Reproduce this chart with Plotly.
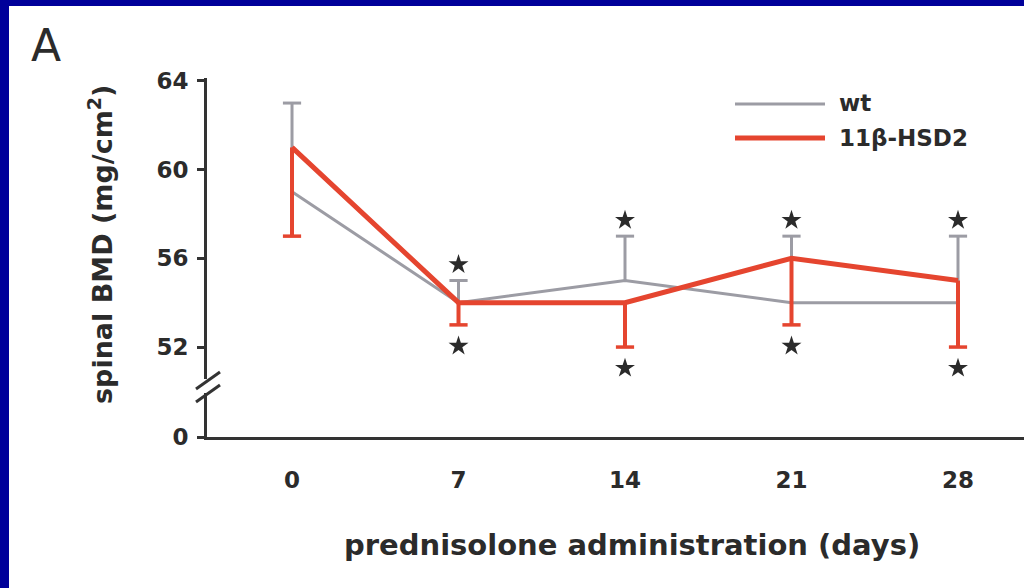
import plotly.graph_objects as go

# Spinal bone mineral density during prednisolone administration
days = [0, 7, 14, 21, 28]
day_labels = ["0", "7", "14", "21", "28"]

wt_name = "wt"
wt_bmd = [59, 54, 55, 54, 54]
wt_err_up = [4, 1, 2, 3, 3]

hsd_name = "11β-HSD2"
hsd_bmd = [61, 54, 54, 56, 55]
hsd_err_down = [4, 1, 2, 3, 3]

# significance markers (days with p < 0.05), above wt / below 11β-HSD2
sig_days_wt = [7, 14, 21, 28]
sig_days_hsd = [7, 14, 21, 28]

y_ticks = [52, 56, 60, 64]

# ---- layout geometry (pixels) ----
W, H = 1024, 588
PL, PT, PR, PB = 207, 78, 0, 151
PW, PH = W - PL - PR, H - PT - PB


def fx(px):
    return (px - PL) / PW


def fy(py):
    return (PT + PH - py) / PH


GREY = "#9c9ca4"
RED = "#e5452f"
INK = "#2b2b2b"
AXIS = "#333333"
FRAME = "#00009a"
FONT = "DejaVu Sans"

fig = go.Figure()

# error bars (no caps) first, lines drawn above them
fig.add_trace(go.Scatter(
    x=days, y=wt_bmd, mode="lines", line=dict(color=GREY, width=3),
    error_y=dict(type="data", symmetric=False, array=wt_err_up,
                 arrayminus=[0] * len(days), width=0, thickness=3, color=GREY),
    showlegend=False, hoverinfo="skip"))
fig.add_trace(go.Scatter(
    x=days, y=hsd_bmd, mode="lines", line=dict(color=RED, width=5),
    error_y=dict(type="data", symmetric=False, array=[0] * len(days),
                 arrayminus=hsd_err_down, width=0, thickness=4, color=RED),
    showlegend=False, hoverinfo="skip"))

# caps at the far end of each error bar
wt_caps = [v + e for v, e in zip(wt_bmd, wt_err_up)]
hsd_caps = [v - e for v, e in zip(hsd_bmd, hsd_err_down)]
fig.add_trace(go.Scatter(
    x=days, y=wt_caps, mode="markers",
    marker=dict(symbol="line-ew", size=13, line=dict(color=GREY, width=3)),
    showlegend=False, hoverinfo="skip"))
fig.add_trace(go.Scatter(
    x=days, y=hsd_caps, mode="markers",
    marker=dict(symbol="line-ew", size=13, line=dict(color=RED, width=3.5)),
    showlegend=False, hoverinfo="skip"))

# asterisks
STAR_UP, STAR_DOWN = 0.72, 0.95
star_wt_y = [wt_caps[days.index(d)] + STAR_UP for d in sig_days_wt]
star_hsd_y = [hsd_caps[days.index(d)] - STAR_DOWN for d in sig_days_hsd]
fig.add_trace(go.Scatter(
    x=sig_days_wt + sig_days_hsd, y=star_wt_y + star_hsd_y, mode="markers",
    marker=dict(symbol="star", size=15, color=INK, line=dict(width=0)),
    showlegend=False, hoverinfo="skip"))

# empty trace so the lower (zero) axis segment is created
fig.add_trace(go.Scatter(x=[None], y=[None], xaxis="x", yaxis="y2",
                         mode="lines", showlegend=False, hoverinfo="skip"))

# broken y axis: upper part for the data, lower stub holding zero
y_lo, y_hi = 50.56, 64.13
upper_bottom_px, lower_top_px = 379, 393

tick_font = dict(size=23, family=FONT, weight="bold", color=INK)
fig.update_layout(
    width=W, height=H,
    margin=dict(l=PL, r=PR, t=PT, b=PB),
    paper_bgcolor="white", plot_bgcolor="white",
    font=dict(family=FONT, color=INK),
    xaxis=dict(
        range=[-3.574, 30.775], anchor="y2",
        showline=True, linecolor=AXIS, linewidth=3,
        tickvals=days, ticktext=day_labels, ticks="",
        tickfont=tick_font, ticklabelstandoff=20,
        showgrid=False, zeroline=False),
    yaxis=dict(
        domain=[fy(upper_bottom_px), 1], range=[y_lo, y_hi], anchor="x",
        showline=True, linecolor=AXIS, linewidth=3,
        tickvals=y_ticks, ticks="outside", ticklen=7, tickwidth=2.5,
        tickcolor=AXIS, ticklabelstandoff=4, tickfont=tick_font,
        showgrid=False, zeroline=False),
    yaxis2=dict(
        domain=[0, fy(lower_top_px)], range=[0, 1.8], anchor="x",
        showline=True, linecolor=AXIS, linewidth=3,
        tickvals=[0], ticktext=["0"], ticks="outside", ticklen=7,
        tickwidth=2.5, tickcolor=AXIS, ticklabelstandoff=4,
        tickfont=tick_font, showgrid=False, zeroline=False),
)

shapes = []
# axis-break slashes
for y0, y1 in [(389, 372), (402, 385)]:
    shapes.append(dict(type="line", xref="paper", yref="paper",
                       x0=fx(196), y0=fy(y0), x1=fx(220), y1=fy(y1),
                       line=dict(color=AXIS, width=3)))
# legend lines
shapes.append(dict(type="line", xref="paper", yref="paper",
                   x0=fx(735), x1=fx(825), y0=fy(104), y1=fy(104),
                   line=dict(color=GREY, width=3)))
shapes.append(dict(type="line", xref="paper", yref="paper",
                   x0=fx(735), x1=fx(825), y0=fy(138), y1=fy(138),
                   line=dict(color=RED, width=5)))
# blue frame on the left and top edges
shapes.append(dict(type="rect", xref="paper", yref="paper",
                   x0=fx(0), x1=fx(9), y0=fy(H), y1=fy(0),
                   fillcolor=FRAME, line=dict(width=0), layer="above"))
shapes.append(dict(type="rect", xref="paper", yref="paper",
                   x0=fx(0), x1=fx(W), y0=fy(6), y1=fy(0),
                   fillcolor=FRAME, line=dict(width=0), layer="above"))
fig.update_layout(shapes=shapes)

annotations = [
    dict(text=wt_name, x=fx(837), y=fy(103), xanchor="left", yanchor="middle",
         font=dict(size=23, family=FONT, weight="bold", color=INK)),
    dict(text=hsd_name, x=fx(837), y=fy(138), xanchor="left", yanchor="middle",
         font=dict(size=23, family=FONT, weight="bold", color=INK)),
    dict(text="spinal BMD (mg/cm<sup>2</sup>)", x=fx(100), y=fy(245),
         textangle=-90, xanchor="center", yanchor="middle",
         font=dict(size=27, family=FONT, weight="bold", color=INK)),
    dict(text="prednisolone administration (days)", x=fx(632), y=fy(545),
         xanchor="center", yanchor="middle",
         font=dict(size=29, family=FONT, weight="bold", color=INK)),
    dict(text="A", x=fx(46), y=fy(45), xanchor="center", yanchor="middle",
         font=dict(size=44, family=FONT, color=INK)),
]
for a in annotations:
    a.update(xref="paper", yref="paper", showarrow=False)
fig.update_layout(annotations=annotations)

fig.write_html("out.html")
